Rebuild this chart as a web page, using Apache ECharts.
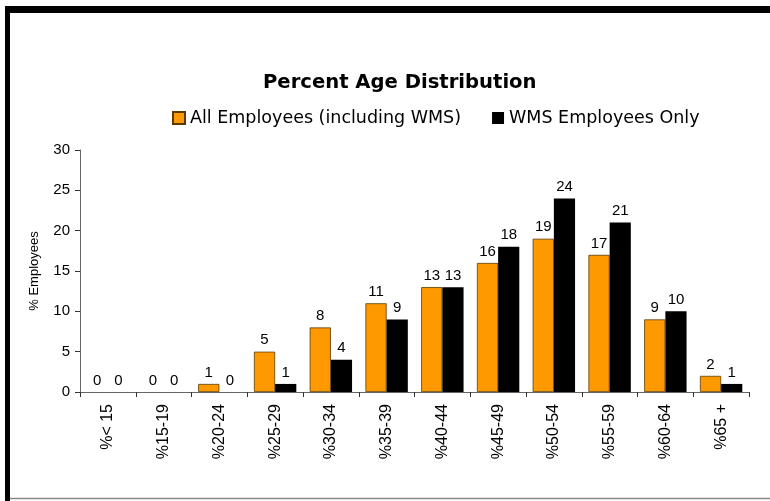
<!DOCTYPE html>
<html>
<head>
<meta charset="utf-8">
<script src="https://cdn.jsdelivr.net/npm/echarts@6/dist/echarts.min.js"></script>
<style>
  html, body { margin: 0; padding: 0; background: #fff; }
  #chart { width: 770px; height: 501px; }
</style>
</head>
<body>
<div id="chart"></div>
<script>
// age groups
const categories = ['%< 15', '%15-19', '%20-24', '%25-29', '%30-34', '%35-39',
    '%40-44', '%45-49', '%50-54', '%55-59', '%60-64', '%65 +'];
// percent of employees per group
const allEmployees = [0, 0, 1, 5, 8, 11, 13, 16, 19, 17, 9, 2];
const wmsEmployees = [0, 0, 0, 1, 4, 9, 13, 18, 24, 21, 10, 1];
const yTicks = [0, 5, 10, 15, 20, 25, 30];

const font = 'Liberation Sans, Arial, sans-serif';
const wideFont = 'DejaVu Sans, Verdana, sans-serif';
let myChart = echarts.init(document.getElementById('chart'));

let labelStyle = {
    show: true,
    position: 'top',
    color: '#000',
    fontFamily: font,
    fontSize: 15,
    distance: 4
};

// zero bars get no outline so nothing shows on the axis
let allData = allEmployees.map(v => ({
    value: v,
    itemStyle: {borderWidth: v === 0 ? 0 : 0.8}
}));

let option = {
    backgroundColor: '#fff',
    animation: false,
    title: {
        text: 'Percent Age Distribution',
        left: 258,
        top: 68,
        textStyle: {color: '#000', fontFamily: wideFont, fontSize: 19.6, fontWeight: 'bold'}
    },
    legend: {
        top: 104,
        left: 167,
        itemWidth: 12,
        itemHeight: 12,
        itemGap: 31,
        icon: 'rect',
        textStyle: {color: '#000', fontFamily: wideFont, fontSize: 17.5},
        data: ['All Employees (including WMS)', 'WMS Employees Only']
    },
    grid: {left: 80, right: 21, top: 150, bottom: 109},
    xAxis: {
        type: 'category',
        data: categories,
        axisLine: {lineStyle: {color: '#666', width: 1}},
        axisTick: {show: true, alignWithLabel: false, length: 5, lineStyle: {color: '#333'}},
        axisLabel: {
            rotate: 90,
            interval: 0,
            margin: 12,
            color: '#000',
            fontFamily: font,
            fontSize: 16
        }
    },
    yAxis: {
        type: 'value',
        min: yTicks[0],
        max: yTicks[yTicks.length - 1],
        interval: 5,
        name: '% Employees',
        nameLocation: 'middle',
        nameRotate: 90,
        nameGap: 39,
        nameTextStyle: {color: '#000', fontFamily: font, fontSize: 13},
        axisLine: {show: true, lineStyle: {color: '#666', width: 1}},
        axisTick: {show: true, length: 5, lineStyle: {color: '#333'}},
        splitLine: {show: false},
        axisLabel: {color: '#000', fontFamily: font, fontSize: 15, margin: 10}
    },
    series: [
        {
            name: 'All Employees (including WMS)',
            type: 'bar',
            data: allData,
            barGap: '0%',
            barCategoryGap: '24%',
            itemStyle: {color: '#FF9900', borderColor: '#5a3a00', borderWidth: 0.8},
            label: labelStyle
        },
        {
            name: 'WMS Employees Only',
            type: 'bar',
            data: wmsEmployees,
            itemStyle: {color: '#000'},
            label: labelStyle
        }
    ],
    graphic: [
        // frame around the chart
        {type: 'rect', shape: {x: 5, y: 6, width: 770, height: 7}, style: {fill: '#000'}, silent: true},
        {type: 'rect', shape: {x: 5, y: 6, width: 5, height: 495}, style: {fill: '#000'}, silent: true},
        {type: 'line', shape: {x1: 10, y1: 498.5, x2: 770, y2: 498.5}, style: {stroke: '#888', lineWidth: 1.5}, silent: true}
    ]
};

myChart.setOption(option);
</script>
</body>
</html>
